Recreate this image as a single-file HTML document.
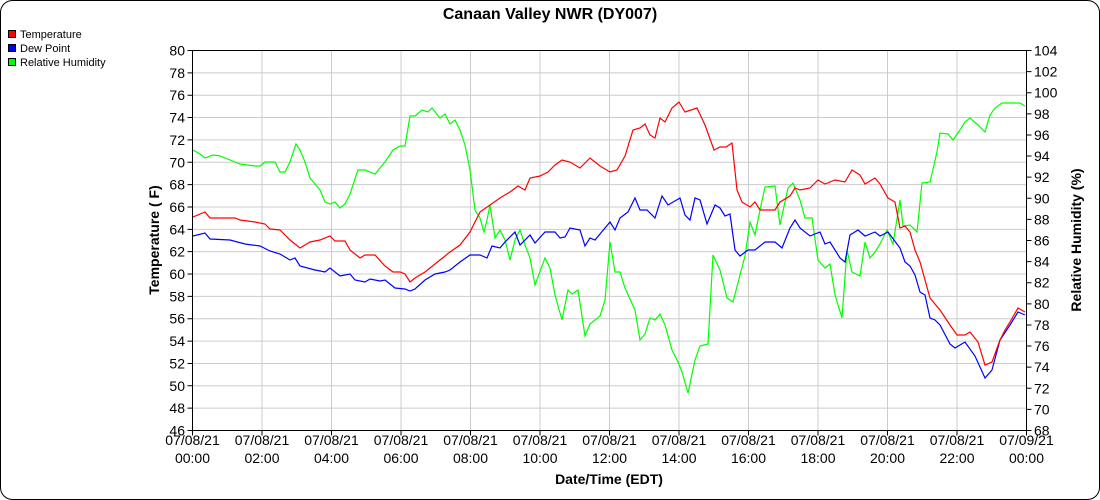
<!DOCTYPE html>
<html><head><meta charset="utf-8"><style>
body{margin:0;background:#fff;}
svg{display:block;font-family:"Liberation Sans",sans-serif;}
</style></head><body>
<svg width="1100" height="500" viewBox="0 0 1100 500" xmlns="http://www.w3.org/2000/svg">
<rect x="0.5" y="0.5" width="1099" height="499" rx="12" fill="#fff" stroke="#000"/>
<text x="550" y="19" text-anchor="middle" font-size="16" font-weight="bold">Canaan Valley NWR (DY007)</text>
<g font-size="11">
<rect x="8.5" y="30.5" width="7" height="7" fill="#f00" stroke="#000"/><text x="20" y="38">Temperature</text>
<rect x="8.5" y="44.5" width="7" height="7" fill="#00f" stroke="#000"/><text x="20" y="52">Dew Point</text>
<rect x="8.5" y="58.5" width="7" height="7" fill="#0f0" stroke="#000"/><text x="20" y="66">Relative Humidity</text>
</g>
<path stroke="#ccc" fill="none" d="M192.5 408.15H1026.5M192.5 385.79H1026.5M192.5 363.44H1026.5M192.5 341.09H1026.5M192.5 318.74H1026.5M192.5 296.38H1026.5M192.5 274.03H1026.5M192.5 251.68H1026.5M192.5 229.32H1026.5M192.5 206.97H1026.5M192.5 184.62H1026.5M192.5 162.26H1026.5M192.5 139.91H1026.5M192.5 117.56H1026.5M192.5 95.21H1026.5M192.5 72.85H1026.5M262 50.5V430.5M331.5 50.5V430.5M401 50.5V430.5M470.5 50.5V430.5M540 50.5V430.5M609.5 50.5V430.5M679 50.5V430.5M748.5 50.5V430.5M818 50.5V430.5M887.5 50.5V430.5M957 50.5V430.5"/>
<path stroke="#000" fill="none" d="M187.5 430.5h5M187.5 408.15h5M187.5 385.79h5M187.5 363.44h5M187.5 341.09h5M187.5 318.74h5M187.5 296.38h5M187.5 274.03h5M187.5 251.68h5M187.5 229.32h5M187.5 206.97h5M187.5 184.62h5M187.5 162.26h5M187.5 139.91h5M187.5 117.56h5M187.5 95.21h5M187.5 72.85h5M187.5 50.5h5
M192.5 430.5v5M262 430.5v5M331.5 430.5v5M401 430.5v5M470.5 430.5v5M540 430.5v5M609.5 430.5v5M679 430.5v5M748.5 430.5v5M818 430.5v5M887.5 430.5v5M957 430.5v5M1026.5 430.5v5
M1026.5 430.5h5M1026.5 409.39h5M1026.5 388.28h5M1026.5 367.17h5M1026.5 346.06h5M1026.5 324.94h5M1026.5 303.83h5M1026.5 282.72h5M1026.5 261.61h5M1026.5 240.5h5M1026.5 219.39h5M1026.5 198.28h5M1026.5 177.17h5M1026.5 156.06h5M1026.5 134.94h5M1026.5 113.83h5M1026.5 92.72h5M1026.5 71.61h5M1026.5 50.5h5"/>
<g font-size="14" text-anchor="end">
<text x="185" y="435.5">46</text><text x="185" y="413.2">48</text><text x="185" y="390.8">50</text><text x="185" y="368.4">52</text><text x="185" y="346.1">54</text><text x="185" y="323.7">56</text><text x="185" y="301.4">58</text><text x="185" y="279">60</text><text x="185" y="256.7">62</text><text x="185" y="234.3">64</text><text x="185" y="212">66</text><text x="185" y="189.6">68</text><text x="185" y="167.3">70</text><text x="185" y="144.9">72</text><text x="185" y="122.6">74</text><text x="185" y="100.2">76</text><text x="185" y="77.9">78</text><text x="185" y="55.5">80</text>
</g>
<g font-size="14">
<text x="1034" y="435.5">68</text><text x="1034" y="414.4">70</text><text x="1034" y="393.3">72</text><text x="1034" y="372.2">74</text><text x="1034" y="351.1">76</text><text x="1034" y="329.9">78</text><text x="1034" y="308.8">80</text><text x="1034" y="287.7">82</text><text x="1034" y="266.6">84</text><text x="1034" y="245.5">86</text><text x="1034" y="224.4">88</text><text x="1034" y="203.3">90</text><text x="1034" y="182.2">92</text><text x="1034" y="161.1">94</text><text x="1034" y="139.9">96</text><text x="1034" y="118.8">98</text><text x="1034" y="97.7">100</text><text x="1034" y="76.6">102</text><text x="1034" y="55.5">104</text>
</g>
<g font-size="14" text-anchor="middle">
<text x="192.5" y="445">07/08/21</text><text x="192.5" y="463">00:00</text>
<text x="262" y="445">07/08/21</text><text x="262" y="463">02:00</text>
<text x="331.5" y="445">07/08/21</text><text x="331.5" y="463">04:00</text>
<text x="401" y="445">07/08/21</text><text x="401" y="463">06:00</text>
<text x="470.5" y="445">07/08/21</text><text x="470.5" y="463">08:00</text>
<text x="540" y="445">07/08/21</text><text x="540" y="463">10:00</text>
<text x="609.5" y="445">07/08/21</text><text x="609.5" y="463">12:00</text>
<text x="679" y="445">07/08/21</text><text x="679" y="463">14:00</text>
<text x="748.5" y="445">07/08/21</text><text x="748.5" y="463">16:00</text>
<text x="818" y="445">07/08/21</text><text x="818" y="463">18:00</text>
<text x="887.5" y="445">07/08/21</text><text x="887.5" y="463">20:00</text>
<text x="957" y="445">07/08/21</text><text x="957" y="463">22:00</text>
<text x="1026.5" y="445">07/09/21</text><text x="1026.5" y="463">00:00</text>
</g>
<polyline fill="none" stroke="#0f0" stroke-width="1.2" points="193,150 200,154 205,158 213,155 220,156 230,160 240,164 255,166 260,166 265,162 275,162 280,172 285,172 290,162 296,144 300,150 305,162 310,178 320,190 325,202 330,204 335,202 340,208 345,204 350,194 358,170 365,170 375,174 385,162 393,150 400,146 405,146 410,116 415,116 422,110 428,112 432,108 440,118 445,114 450,124 455,120 460,130 465,145 470,170 475,210 480,218 484,232 487,220 490,205 495,238 500,230 505,240 510,260 515,240 520,230 525,245 530,258 535,285 545,258 550,268 555,295 562,320 568,290 572,294 578,290 585,336 590,324 600,316 605,300 610,242 615,272 620,272 625,288 635,310 640,340 645,334 650,318 655,320 660,314 665,325 672,350 678,362 682,372 688,393 695,360 700,346 708,344 713,255 720,270 727,298 733,302 740,275 745,256 750,222 755,235 760,210 765,187 775,186 780,225 788,188 793,183 800,200 805,218 812,218 818,260 825,268 830,264 835,295 842,318 847,250 852,272 860,276 865,242 870,258 875,252 880,244 887,230 893,244 900,200 903,226 910,225 917,232 922,183 930,182 937,152 940,133 948,134 953,140 960,130 965,122 970,118 978,125 985,132 990,115 995,108 1002,103 1010,103 1020,103 1025,106"/>
<polyline fill="none" stroke="#00f" stroke-width="1.2" points="193,236 205,233 210,239 230,240 245,244 260,246 270,251 280,254 290,260 295,258 300,266 315,270 325,272 330,268 340,276 350,274 355,280 365,282 370,279 380,281 385,280 390,284 395,288 405,289 410,291 415,289 425,280 435,274 445,272 450,270 460,262 470,255 480,255 487,258 492,246 500,248 505,242 515,232 520,245 530,235 535,243 545,232 555,232 560,238 565,237 570,228 580,230 585,246 590,238 595,240 610,222 615,230 620,218 628,212 635,198 640,210 647,210 655,218 662,196 668,205 680,198 685,215 690,220 695,198 700,200 707,224 715,205 720,208 725,216 730,214 735,250 740,256 748,250 755,250 765,242 775,242 782,248 790,228 795,220 800,228 810,236 820,232 825,244 830,242 840,258 845,262 850,235 858,230 865,236 875,232 880,236 888,232 900,248 905,262 910,266 915,275 920,292 925,295 930,318 935,320 940,325 950,344 955,348 965,342 975,356 985,378 992,370 1000,340 1010,325 1018,312 1025,315"/>
<polyline fill="none" stroke="#f00" stroke-width="1.2" points="193,217 205,212 210,218 235,218 240,220 255,222 265,224 270,229 280,230 290,240 300,248 310,242 320,240 330,236 335,241 345,241 350,250 360,258 365,255 375,255 385,266 393,272 400,272 405,274 410,282 415,278 425,272 430,268 440,260 450,252 460,245 470,232 480,212 490,205 500,198 510,192 518,186 525,190 530,178 540,176 548,172 555,165 562,160 570,162 580,168 590,158 600,166 610,172 617,170 625,156 633,130 640,128 645,124 650,135 655,138 660,118 665,122 672,108 679,102 685,112 697,108 705,125 714,150 720,147 726,147 732,143 737,190 742,202 750,207 755,202 760,210 775,210 780,202 790,196 795,188 800,190 810,188 818,180 825,184 835,180 845,182 852,170 860,175 865,184 875,178 880,184 888,198 895,202 900,228 905,226 910,232 915,250 920,262 930,298 940,310 950,325 957,335 965,335 970,332 978,342 985,365 992,362 1000,340 1005,330 1010,322 1018,308 1025,312"/>
<rect x="192.5" y="50.5" width="834" height="380" fill="none" stroke="#000"/>
<text x="609" y="484" text-anchor="middle" font-size="14" font-weight="bold">Date/Time (EDT)</text>
<text transform="translate(159,240) rotate(-90)" text-anchor="middle" font-size="14" font-weight="bold">Temperature ( F)</text>
<text transform="translate(1081,240) rotate(-90)" text-anchor="middle" font-size="14" font-weight="bold">Relative Humidity (%)</text>
</svg>
</body></html>
